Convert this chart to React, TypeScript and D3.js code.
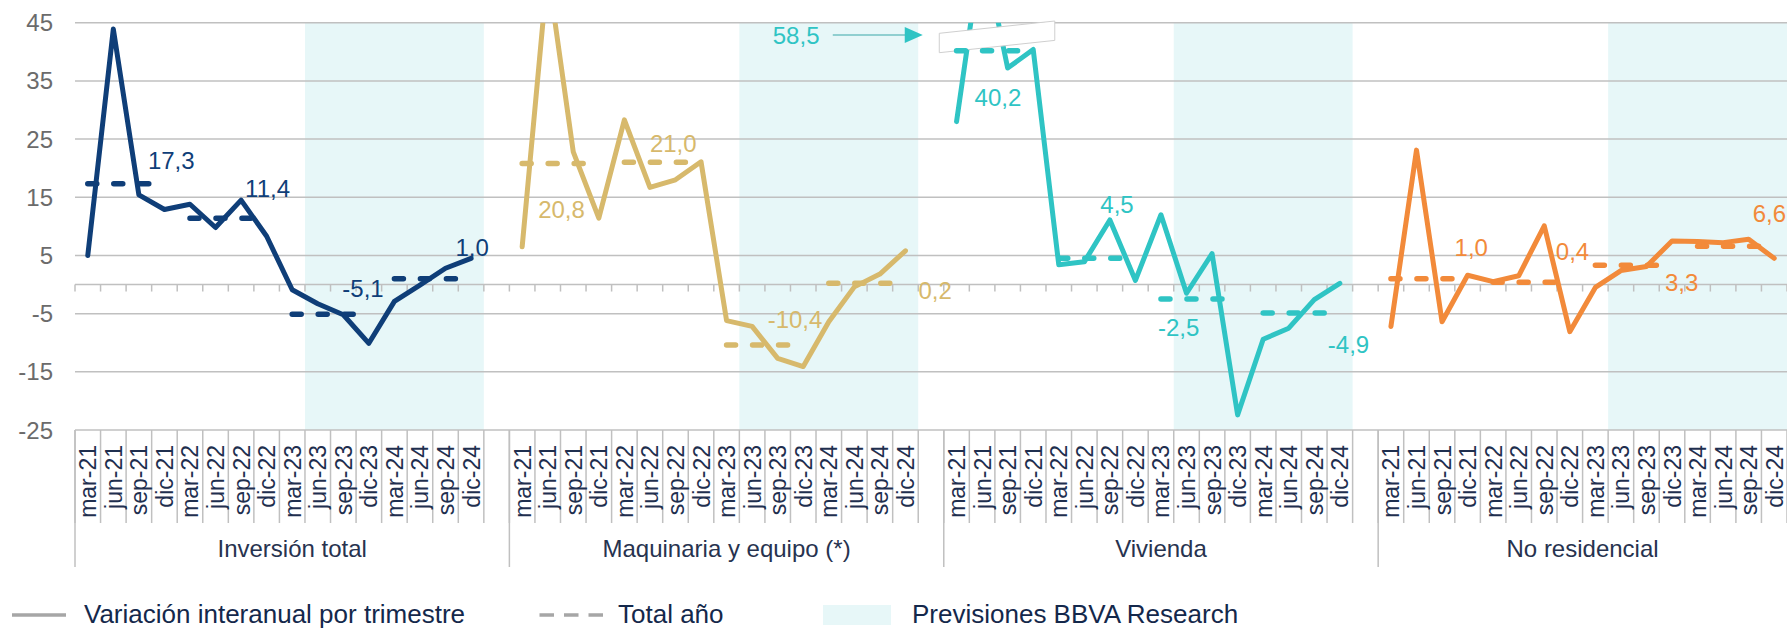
import React, { useEffect, useRef } from 'react';
import * as d3 from 'd3';

const WIDTH = 1787;
const HEIGHT = 629;
const FONT = '"Liberation Sans", Arial, sans-serif';

const QUARTERS = ['mar-21', 'jun-21', 'sep-21', 'dic-21', 'mar-22', 'jun-22', 'sep-22', 'dic-22',
  'mar-23', 'jun-23', 'sep-23', 'dic-23', 'mar-24', 'jun-24', 'sep-24', 'dic-24'];
const GROUPS = ['Inversión total', 'Maquinaria y equipo (*)', 'Vivienda', 'No residencial'];
const COLORS = ['#0f3e78', '#d7b96c', '#2fc4c4', '#f28a3a'];

// quarterly y/y change
const inversionTotal = [5.0, 43.9, 15.4, 12.9, 13.8, 9.8, 14.5, 8.3, -0.9, -3.3, -5.2, -10.1, -2.9, -0.1, 2.8, 4.5];
const maquinaria = [6.5, 54.0, 22.8, 11.4, 28.3, 16.7, 18.0, 21.1, -6.2, -7.2, -12.7, -14.1, -6.4, -0.4, 1.8, 5.8];
const vivienda = [28.0, 58.5, 37.2, 40.4, 3.4, 3.9, 11.1, 0.7, 12.0, -1.5, 5.3, -22.4, -9.4, -7.5, -2.6, 0.2];
const noResidencial = [-7.2, 23.1, -6.4, 1.6, 0.5, 1.5, 10.1, -8.1, -0.5, 2.4, 3.1, 7.5, 7.4, 7.2, 7.8, 4.5];

// annual totals (2021..2024)
const anualInversion = [17.3, 11.4, -5.1, 1.0];
const anualMaquinaria = [20.8, 21.0, -10.4, 0.2];
const anualVivienda = [40.2, 4.5, -2.5, -4.9];
const anualNoResidencial = [1.0, 0.4, 3.3, 6.6];

const Y_TICKS = [45, 35, 25, 15, 5, -5, -15, -25];
const FORECAST_FROM = 'jun-23';

const SERIES = [inversionTotal, maquinaria, vivienda, noResidencial];
const ANNUAL = [anualInversion, anualMaquinaria, anualVivienda, anualNoResidencial];

// where each annual label sits: anchor quarter + pixel nudge
const LABEL_POS = [
  [{ q: 2, dx: 9, dy: -23 }, { q: 6, dx: 4, dy: -30 }, { q: 10, dx: -1, dy: -26 }, { q: 14, dx: 10, dy: -31 }],
  [{ q: 0, dx: 16, dy: 46 }, { q: 5, dx: 0, dy: -19 }, { q: 10, dx: -10, dy: -26 }, { q: 15, dx: 13, dy: 7 }],
  [{ q: 0, dx: 18, dy: 47 }, { q: 5, dx: 16, dy: -54 }, { q: 8, dx: -3, dy: 28 }, { q: 15, dx: -12, dy: 31 }],
  [{ q: 3, dx: -13, dy: -31 }, { q: 7, dx: -14, dy: -31 }, { q: 11, dx: -7, dy: 17 }, { q: 14, dx: 4, dy: -33 }],
];

const fmt = (v: number) => v.toFixed(1).replace('.', ',');

export default function App() {
  const svgRef = useRef<SVGSVGElement>(null);

  useEffect(() => {
    const svg = d3.select(svgRef.current);
    svg.selectAll('*').remove();

    const keys: string[] = [];
    GROUPS.forEach((g, gi) => {
      QUARTERS.forEach(q => keys.push(`${gi}|${q}`));
      if (gi < GROUPS.length - 1) keys.push(`${gi}|gap`);
    });

    const x = d3.scaleBand<string>().domain(keys).range([75, WIDTH]).padding(0);
    const y = d3.scaleLinear().domain([-25, 45]).range([430, 22.7]);
    const bw = x.bandwidth();
    const cx = (gi: number, q: number) => (x(`${gi}|${QUARTERS[q]}`) as number) + bw / 2;
    const gStart = (gi: number) => x(`${gi}|${QUARTERS[0]}`) as number;
    const gEnd = (gi: number) => (gi < GROUPS.length - 1 ? gStart(gi + 1) : WIDTH);

    const defs = svg.append('defs');
    defs.append('clipPath').attr('id', 'plot-clip')
      .append('rect')
      .attr('x', 75).attr('y', y(45))
      .attr('width', WIDTH - 75).attr('height', y(-25) - y(45));

    // forecast shading
    const fIdx = QUARTERS.indexOf(FORECAST_FROM);
    GROUPS.forEach((g, gi) => {
      const x0 = x(`${gi}|${FORECAST_FROM}`) as number;
      svg.append('rect')
        .attr('x', x0).attr('y', y(45))
        .attr('width', bw * (QUARTERS.length - fIdx))
        .attr('height', y(-25) - y(45))
        .attr('fill', '#e7f7f8');
    });

    // gridlines
    svg.append('g').selectAll('line').data(Y_TICKS).enter().append('line')
      .attr('x1', 75).attr('x2', WIDTH)
      .attr('y1', d => y(d)).attr('y2', d => y(d))
      .attr('stroke', '#c0c0c0').attr('stroke-width', 1.5);

    // y labels
    svg.append('g').selectAll('text').data(Y_TICKS).enter().append('text')
      .attr('x', 53).attr('y', d => y(d))
      .attr('text-anchor', 'end').attr('dominant-baseline', 'central')
      .style('font-family', FONT).style('font-size', '24px').attr('fill', '#6b6b6b')
      .text(d => d);

    // category axis at 0 with ticks
    svg.append('line')
      .attr('x1', 75).attr('x2', WIDTH).attr('y1', y(0)).attr('y2', y(0))
      .attr('stroke', '#c0c0c0').attr('stroke-width', 1.5);
    const bounds = keys.map(k => x(k) as number).concat([WIDTH]);
    svg.append('g').selectAll('line').data(bounds).enter().append('line')
      .attr('x1', d => d).attr('x2', d => d)
      .attr('y1', y(0)).attr('y2', y(0) + 7)
      .attr('stroke', '#c0c0c0').attr('stroke-width', 1.5);

    // category label box separators
    svg.append('g').selectAll('line').data(bounds).enter().append('line')
      .attr('x1', d => d).attr('x2', d => d)
      .attr('y1', y(-25)).attr('y2', 523)
      .attr('stroke', '#c0c0c0').attr('stroke-width', 1.5);
    svg.append('g').selectAll('line').data(GROUPS.map((g, gi) => gStart(gi))).enter().append('line')
      .attr('x1', d => d).attr('x2', d => d)
      .attr('y1', y(-25)).attr('y2', 567)
      .attr('stroke', '#c0c0c0').attr('stroke-width', 1.5);

    // quarter labels
    GROUPS.forEach((g, gi) => {
      QUARTERS.forEach((q, qi) => {
        svg.append('text')
          .attr('transform', `translate(${cx(gi, qi) + 8.5},445) rotate(-90)`)
          .attr('text-anchor', 'end')
          .style('font-family', FONT).style('font-size', '23px').attr('fill', '#1f2f4f')
          .text(q);
      });
      svg.append('text')
        .attr('x', (gStart(gi) + gEnd(gi)) / 2).attr('y', 557)
        .attr('text-anchor', 'middle')
        .style('font-family', FONT).style('font-size', '24px').attr('fill', '#27334f')
        .text(g);
    });

    // quarterly lines
    const line = d3.line<number>()
      .x(() => 0)
      .y(d => y(d));
    const plot = svg.append('g').attr('clip-path', 'url(#plot-clip)');
    SERIES.forEach((vals, gi) => {
      plot.append('path')
        .datum(vals)
        .attr('fill', 'none')
        .attr('stroke', COLORS[gi])
        .attr('stroke-width', 5)
        .attr('stroke-linejoin', 'round')
        .attr('stroke-linecap', 'round')
        .attr('d', line.x((d, i) => cx(gi, i)));
    });

    // axis break mark over the vivienda peak
    const vs = gStart(2);
    svg.append('polygon')
      .attr('points', [[vs - 4.5, 33.3], [vs + 111, 21], [vs + 111, 40.4], [vs - 4.5, 52.7]].map(p => p.join(',')).join(' '))
      .attr('fill', '#ffffff').attr('stroke', '#cfcfcf').attr('stroke-width', 1);

    // annual dashed lines
    ANNUAL.forEach((vals, gi) => {
      vals.forEach((v, yi) => {
        svg.append('line')
          .attr('x1', cx(gi, yi * 4)).attr('x2', cx(gi, yi * 4 + 3))
          .attr('y1', y(v)).attr('y2', y(v))
          .attr('stroke', COLORS[gi]).attr('stroke-width', 5.5)
          .attr('stroke-linecap', 'round')
          .attr('stroke-dasharray', '9 17');
      });
    });

    // annual labels
    ANNUAL.forEach((vals, gi) => {
      vals.forEach((v, yi) => {
        const p = LABEL_POS[gi][yi];
        svg.append('text')
          .attr('x', cx(gi, p.q) + p.dx).attr('y', y(v) + p.dy)
          .attr('dominant-baseline', 'central')
          .style('font-family', FONT).style('font-size', '24px').attr('fill', COLORS[gi])
          .text(fmt(v));
      });
    });

    // 58,5 annotation
    const ay = y(45) + 12.3;
    svg.append('line')
      .attr('x1', vs - 111).attr('x2', vs - 36).attr('y1', ay).attr('y2', ay)
      .attr('stroke', '#3aa8a8').attr('stroke-width', 1.2);
    svg.append('polygon')
      .attr('points', [[vs - 21, ay], [vs - 39, ay - 8], [vs - 39, ay + 8]].map(p => p.join(',')).join(' '))
      .attr('fill', COLORS[2]);
    svg.append('text')
      .attr('x', vs - 171).attr('y', ay)
      .attr('dominant-baseline', 'central')
      .style('font-family', FONT).style('font-size', '24px').attr('fill', COLORS[2])
      .text(fmt(vivienda[1]));

    // legend
    const lg = svg.append('g');
    lg.append('line').attr('x1', 12).attr('x2', 66).attr('y1', 615).attr('y2', 615)
      .attr('stroke', '#a6a6a6').attr('stroke-width', 3.5);
    lg.append('text').attr('x', 84).attr('y', 623)
      .style('font-family', FONT).style('font-size', '26px').attr('fill', '#14284b')
      .text('Variación interanual por trimestre');
    lg.append('line').attr('x1', 539.5).attr('x2', 603).attr('y1', 615).attr('y2', 615)
      .attr('stroke', '#a6a6a6').attr('stroke-width', 3.5).attr('stroke-dasharray', '14.5 10');
    lg.append('text').attr('x', 618).attr('y', 623)
      .style('font-family', FONT).style('font-size', '26px').attr('fill', '#14284b')
      .text('Total año');
    lg.append('rect').attr('x', 823).attr('y', 605).attr('width', 68).attr('height', 20)
      .attr('fill', '#e7f7f8');
    lg.append('text').attr('x', 912).attr('y', 623)
      .style('font-family', FONT).style('font-size', '26px').attr('fill', '#14284b')
      .text('Previsiones BBVA Research');
  }, []);

  return (
    <>
      <style>{'body{margin:0;overflow:hidden;background:#fff}'}</style>
      <svg ref={svgRef} width={WIDTH} height={HEIGHT} style={{ display: 'block' }}></svg>
    </>
  );
}
